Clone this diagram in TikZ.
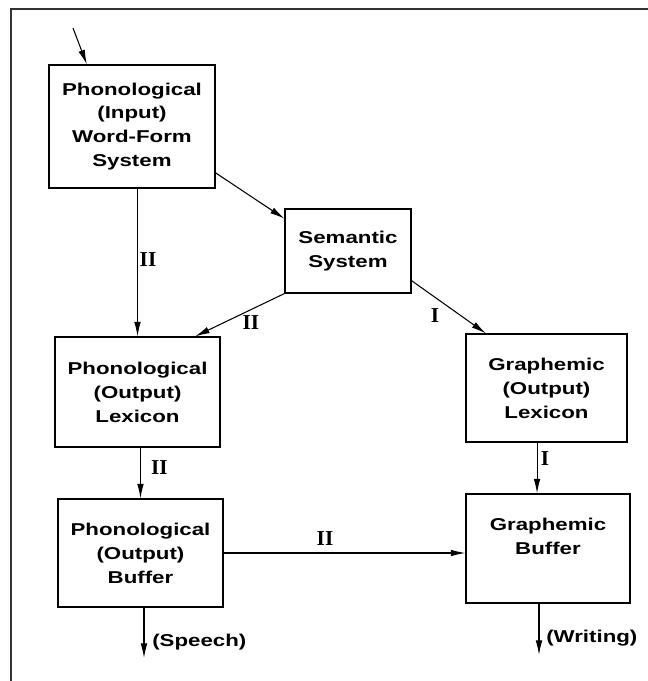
\documentclass[tikz,border=0pt]{standalone}
\usepackage{fontspec}
\usetikzlibrary{arrows.meta}
\newfontfamily\boxfont{Liberation Sans}[FakeStretch=1.3]
\newfontfamily\numfont{Liberation Serif}

\begin{document}
\begin{tikzpicture}[
  box/.style={draw,line width=0.9pt,align=center,inner sep=0pt,
              font=\boxfont\bfseries\fontsize{12.9}{18}\selectfont},
  num/.style={font=\numfont\bfseries\fontsize{16}{16}\selectfont,inner sep=0pt},
  outlbl/.style={font=\boxfont\bfseries\fontsize{12.9}{18}\selectfont,
                 anchor=west,inner sep=0pt},
  arr/.style={line width=0.8pt,-{Latex[length=11pt,width=5pt]}}
]
\useasboundingbox (0,0) rectangle (17.145,-18.018);

% ---- Frame --------------------------------------------------
\draw[line width=1.5pt,black!80] (0.278,-18.018) -- (0.278,-0.225) -- (17.145,-0.225);

% ---- Boxes --------------------------------------------------
\node[box,minimum width=4.392cm,minimum height=3.254cm] (pin) at (3.492,-3.347)
  {Phonological\\(Input)\\Word-Form\\System};
\node[box,minimum width=3.334cm,minimum height=2.222cm] (sem) at (9.207,-6.641)
  {Semantic\\System};
\node[box,minimum width=4.366cm,minimum height=2.910cm] (pol) at (3.638,-10.372)
  {Phonological\\(Output)\\Lexicon};
\node[box,minimum width=4.260cm,minimum height=2.857cm] (gol) at (14.459,-10.266)
  {Graphemic\\(Output)\\Lexicon};
\node[box,minimum width=4.366cm,minimum height=2.857cm] (pob) at (3.717,-14.631)
  {Phonological\\(Output)\\Buffer};
\node[box,minimum width=4.339cm,minimum height=2.884cm] (gb) at (14.499,-14.512)
  {Graphemic\\Buffer\\~};

% ---- Free ends ----------------------------------------------
\coordinate (in) at (1.931,-0.741);
\coordinate (speech) at (3.810,-17.409);
\coordinate (writing) at (14.261,-17.330);

% ---- Connectors ---------------------------------------------
\draw[arr] (in) -- (pin.126);
\draw[arr] (pin.-29) -- (sem.153);
\draw[arr] (pin.south -| pol.north) -- (pol.north);
\draw[arr] (sem.south west) -- (pol.44);
\draw[arr] (sem.-25) -- (gol.138);
\draw[arr] (pol.south -| pob.north) -- (pob.north);
\draw[arr] ([xshift=-0.25cm]gol.south) -- ([xshift=-0.25cm]gol.south |- gb.north);
\draw[arr] (pob.east) -- (pob.east -| gb.west);
\draw[arr] (pob.south -| speech) -- (speech);
\draw[arr] (gb.south -| writing) -- (writing);

% ---- Route labels -------------------------------------------
\node[num] (n1) at (3.916,-6.879)  {II};
\node[num] (n2) at (6.641,-8.546)  {II};
\node[num] (n3) at (11.509,-8.361) {I};
\node[num] (n4) at (4.220,-12.382) {II};
\node[num] (n5) at (14.420,-12.131) {I};
\node[num] (n6) at (8.599,-14.261) {II};

\node[outlbl] (sp) at (4.022,-16.986)  {(Speech)};
\node[outlbl] (wr) at (14.446,-16.880) {(Writing)};

\end{tikzpicture}
\end{document}
